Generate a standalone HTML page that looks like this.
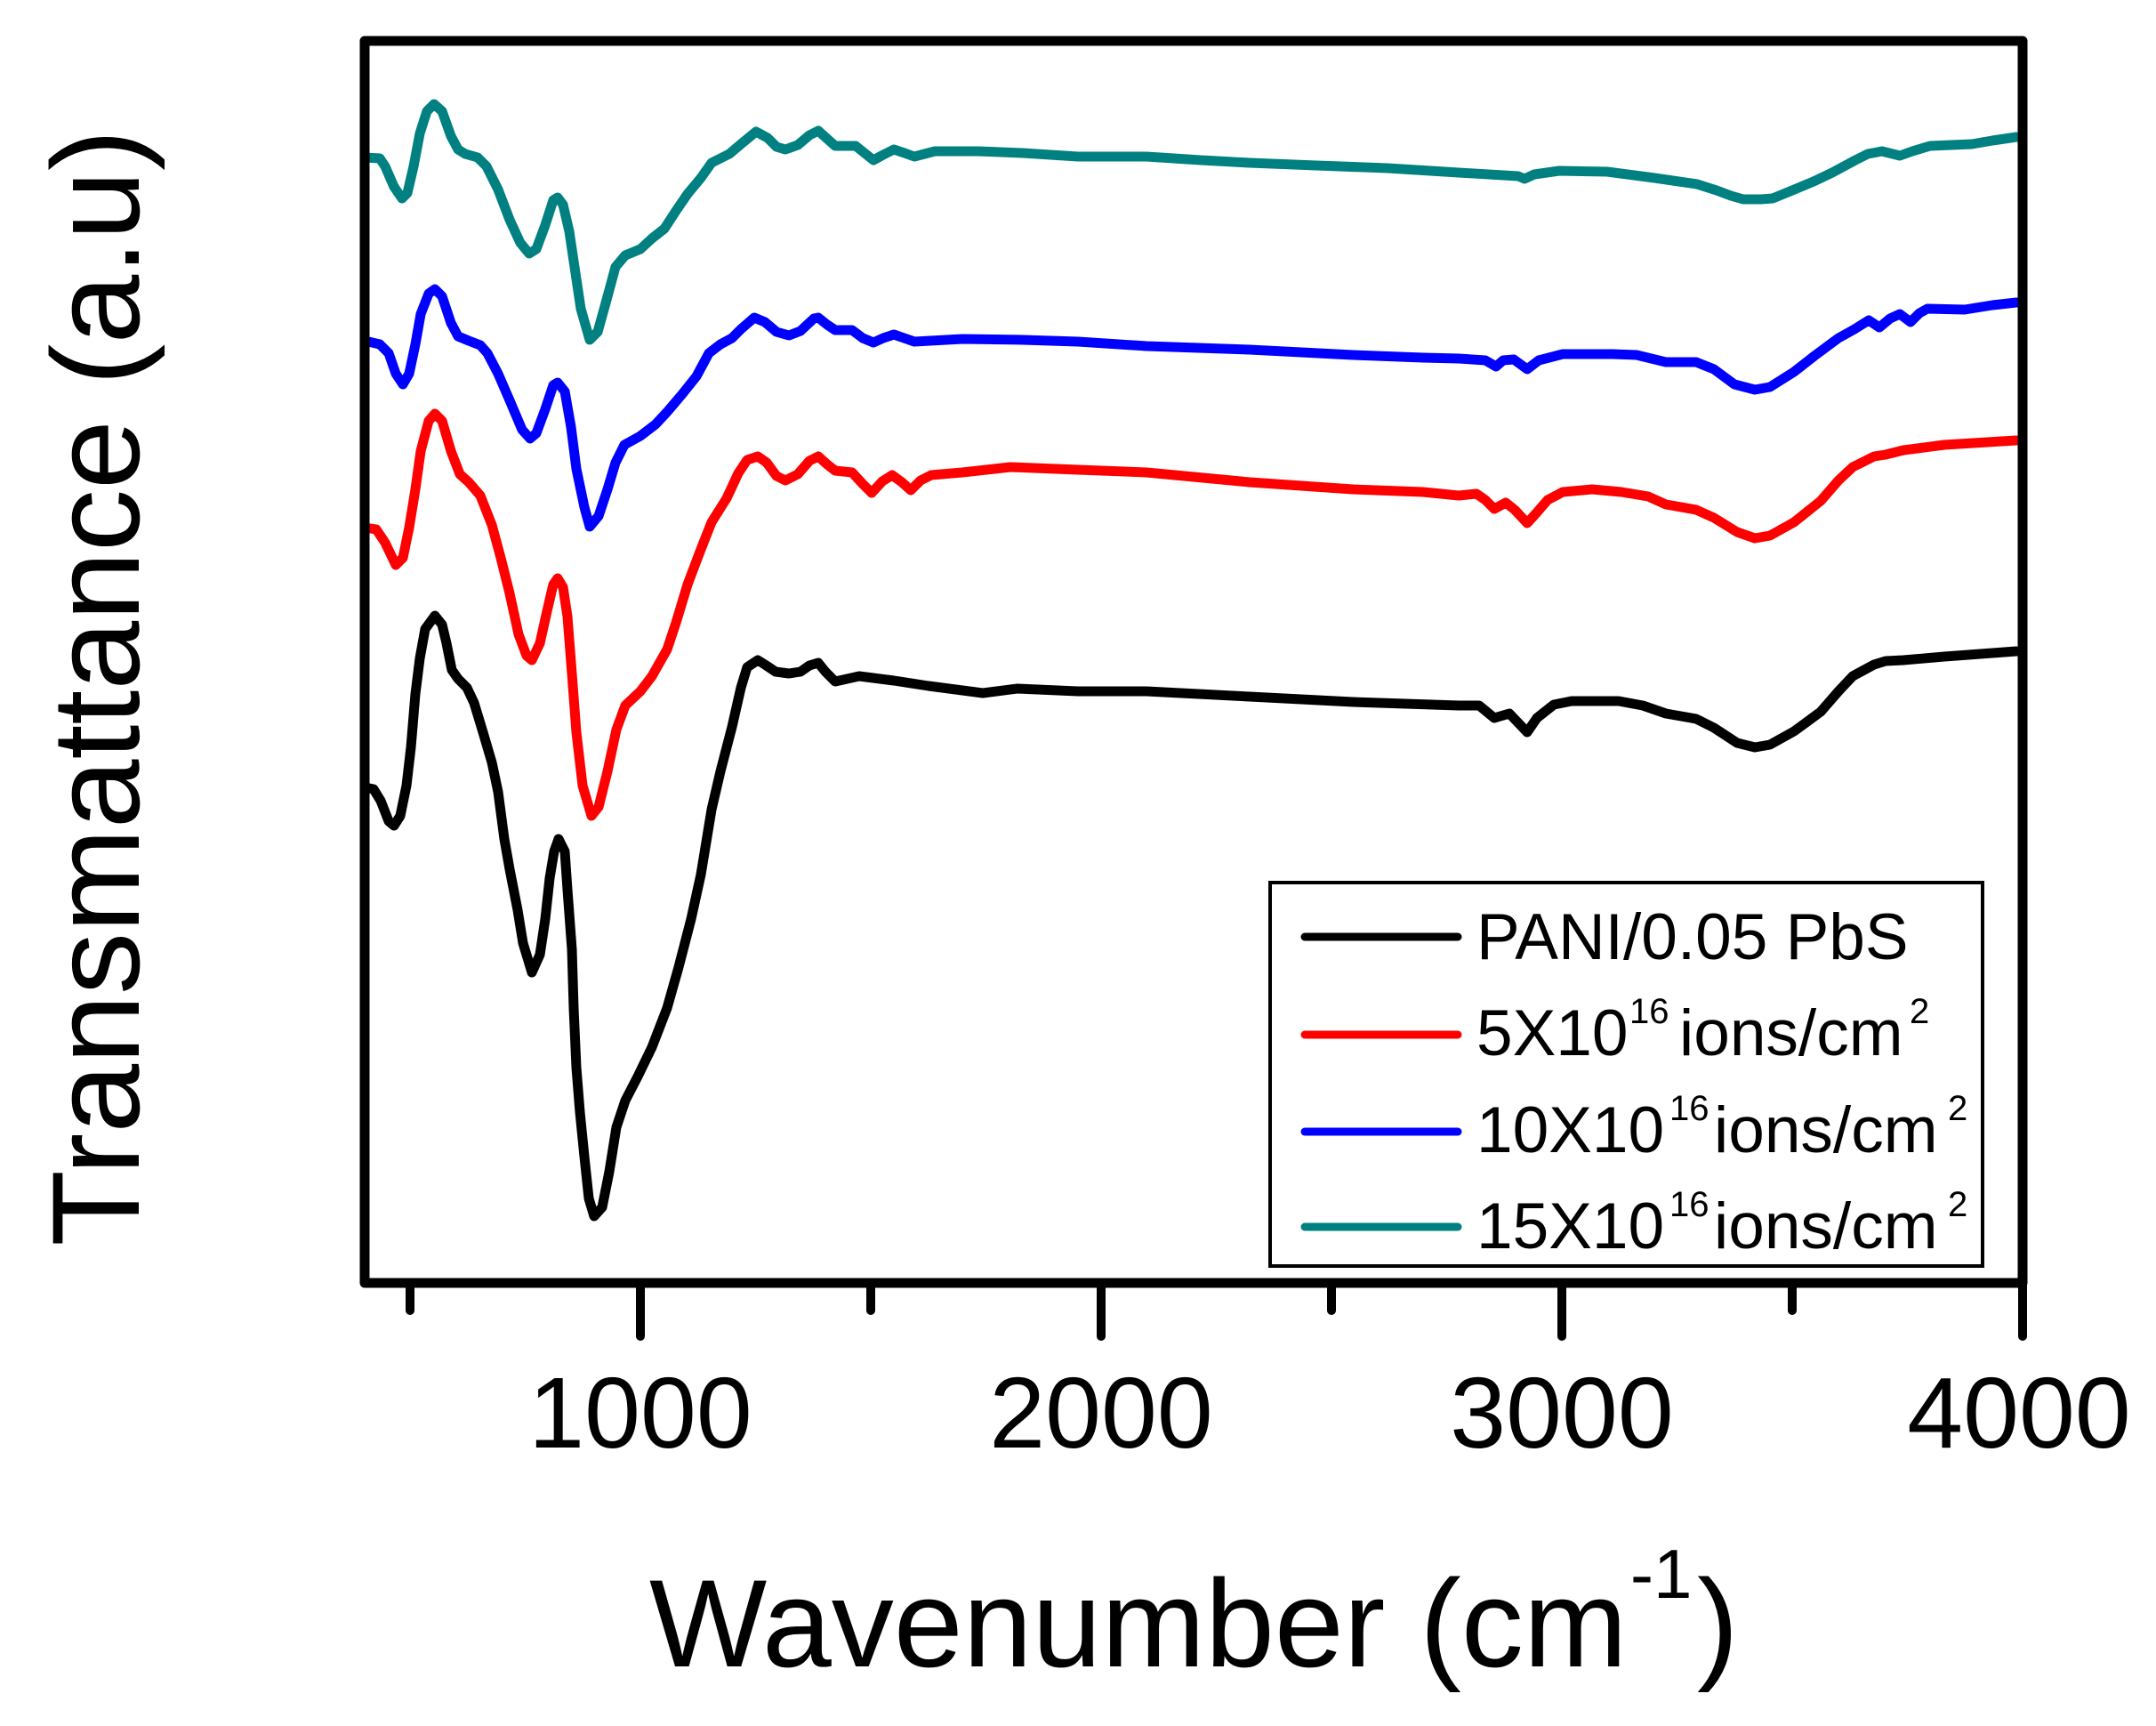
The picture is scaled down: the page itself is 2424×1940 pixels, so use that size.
<!DOCTYPE html>
<html><head><meta charset="utf-8"><style>
html,body{margin:0;padding:0;background:#fff;}
svg{display:block;}
text{font-family:"Liberation Sans",Arial,sans-serif;fill:#000;}
</style></head><body>
<svg width="2424" height="1940" viewBox="0 0 2424 1940" xmlns="http://www.w3.org/2000/svg">
<rect width="2424" height="1940" fill="#fff"/>
<g fill="none" stroke-width="11" stroke-linejoin="round" stroke-linecap="round">
<polyline stroke="#000" points="410,885 420,887 428,900 437,923 443,928 450,917 457,883 462,840 467,780 472,740 478,707 489,692 497,702 502,723 508,753 515,763 525,773 533,790 543,823 553,857 560,890 567,943 573,977 582,1023 588,1060 598,1093 607,1073 613,1033 618,987 623,957 628,943 635,957 638,1000 643,1067 645,1133 648,1200 652,1250 657,1300 662,1347 668,1367 677,1357 685,1317 693,1267 703,1237 717,1210 733,1177 750,1133 763,1087 777,1033 788,983 800,910 810,867 823,817 833,773 840,750 852,742 860,747 872,755 887,757 900,755 910,748 920,745 928,755 939,766 966,760 1005,765 1044,771 1105,779 1144,774 1212,777 1289,777 1405,783 1521,789 1640,793 1663,793 1680,807 1697,802 1717,823 1728,807 1747,792 1767,788 1820,788 1847,793 1873,802 1907,808 1927,818 1953,835 1973,840 1990,837 2017,822 2047,800 2067,777 2083,760 2107,747 2120,743 2140,742 2186,738 2267,732"/>
<polyline stroke="#ff0000" points="410,593 423,595 433,610 445,635 453,627 460,593 467,550 473,507 482,473 489,465 497,473 507,507 517,533 527,542 540,557 553,590 563,627 573,667 583,713 592,737 598,742 607,723 615,687 622,657 627,650 633,660 638,693 643,757 648,823 655,883 665,917 673,907 683,867 693,820 703,793 720,777 733,760 750,730 760,700 773,657 787,620 800,587 817,560 830,532 840,517 852,513 862,520 873,535 883,540 897,533 910,518 920,513 930,522 939,529 958,531 970,544 980,554 992,541 1003,534 1014,542 1024,551 1035,540 1047,534 1082,531 1136,525 1212,528 1289,531 1405,542 1521,550 1600,553 1640,557 1660,555 1670,562 1680,572 1693,565 1703,573 1717,588 1727,577 1740,562 1757,553 1790,550 1823,553 1853,558 1873,567 1907,573 1927,582 1953,598 1973,605 1990,602 2017,587 2047,563 2067,540 2083,525 2107,513 2120,511 2140,506 2186,500 2267,495"/>
<polyline stroke="#0000ff" points="410,383 427,387 437,397 445,420 453,432 460,420 467,387 473,353 482,330 489,325 497,333 507,363 515,378 527,383 540,388 548,397 560,420 573,450 587,483 596,493 603,487 613,460 622,433 627,430 635,440 642,480 648,527 657,570 663,592 673,580 683,550 692,520 702,500 720,490 737,477 750,463 767,443 783,423 797,397 810,387 823,380 833,370 848,357 860,362 873,373 887,377 900,372 915,358 920,357 930,365 939,371 958,371 970,380 982,385 993,380 1005,376 1028,384 1082,381 1150,382 1212,384 1289,389 1405,393 1521,399 1600,402 1640,403 1670,405 1682,412 1690,405 1702,404 1717,415 1730,405 1757,398 1813,398 1840,399 1873,407 1907,407 1927,415 1950,432 1973,438 1990,435 2017,418 2040,400 2067,380 2085,370 2101,360 2113,368 2125,358 2136,353 2148,362 2158,352 2167,347 2209,348 2240,343 2267,340"/>
<polyline stroke="#008080" points="410,177 427,178 433,187 443,210 452,223 458,217 465,187 472,150 480,125 488,117 497,125 507,153 515,168 523,173 537,177 547,187 560,213 573,247 585,273 595,285 603,280 613,253 622,225 627,222 633,230 640,260 647,307 653,347 663,382 672,373 682,337 692,300 703,287 720,280 733,268 747,257 760,237 773,218 788,200 800,183 820,173 833,162 850,148 863,155 873,165 883,168 897,163 910,152 920,147 930,156 939,164 962,164 972,172 982,180 993,174 1005,168 1017,172 1028,176 1051,170 1100,170 1150,172 1212,176 1289,176 1350,180 1405,183 1480,186 1560,189 1640,194 1707,198 1714,201 1725,196 1753,192 1807,193 1860,200 1908,207 1930,214 1946,220 1960,224 1980,224 1993,223 2015,214 2039,204 2060,194 2086,180 2100,173 2116,170 2136,175 2150,170 2170,164 2217,162 2240,158 2267,154"/>
</g>
<!-- frame -->
<rect x="410" y="46" width="1864" height="1396" fill="none" stroke="#000" stroke-width="11" stroke-linejoin="round"/>
<!-- ticks -->
<g stroke="#000" stroke-width="10" stroke-linecap="round">
<line x1="720" y1="1442" x2="720" y2="1502"/>
<line x1="1238" y1="1442" x2="1238" y2="1502"/>
<line x1="1756" y1="1442" x2="1756" y2="1502"/>
<line x1="2274" y1="1442" x2="2274" y2="1502"/>
<line x1="461" y1="1442" x2="461" y2="1473"/>
<line x1="979" y1="1442" x2="979" y2="1473"/>
<line x1="1497" y1="1442" x2="1497" y2="1473"/>
<line x1="2015" y1="1442" x2="2015" y2="1473"/>
</g>
<g font-size="113" text-anchor="middle">
<text x="720" y="1627">1000</text>
<text x="1238" y="1627">2000</text>
<text x="1756" y="1627">3000</text>
<text x="2270" y="1627">4000</text>
</g>
<!-- axis labels -->
<text x="730" y="1873" font-size="140">Wavenumber (cm</text>
<text x="1833" y="1796" font-size="78">-1</text>
<text x="1908" y="1873" font-size="140">)</text>
<text transform="translate(156,773) rotate(-90)" text-anchor="middle" font-size="140">Transmattance (a.u)</text>
<!-- legend -->
<rect x="1428" y="992" width="801" height="431" fill="#fff" stroke="#000" stroke-width="4"/>
<g stroke-width="9" stroke-linecap="round">
<line x1="1467" y1="1053" x2="1639" y2="1053" stroke="#000"/>
<line x1="1467" y1="1163" x2="1639" y2="1163" stroke="#ff0000"/>
<line x1="1467" y1="1272" x2="1639" y2="1272" stroke="#0000ff"/>
<line x1="1467" y1="1379" x2="1639" y2="1379" stroke="#008080"/>
</g>
<g font-size="73">
<text x="1660" y="1078">PANI/0.05 PbS</text>
<text x="1660" y="1186">5X10</text>
<text x="1832" y="1150" font-size="40">16</text>
<text x="1888" y="1186">ions/cm</text>
<text x="2147" y="1150" font-size="40">2</text>
<text x="1660" y="1295">10X10</text>
<text x="1877" y="1259" font-size="40">16</text>
<text x="1927" y="1295">ions/cm</text>
<text x="2190" y="1259" font-size="40">2</text>
<text x="1660" y="1403">15X10</text>
<text x="1877" y="1367" font-size="40">16</text>
<text x="1927" y="1403">ions/cm</text>
<text x="2190" y="1367" font-size="40">2</text>
</g>
</svg>
</body></html>
